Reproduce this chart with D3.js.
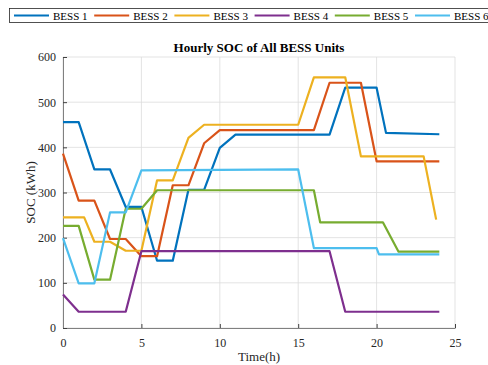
<!DOCTYPE html>
<html>
<head>
<meta charset="utf-8">
<script src="https://cdn.jsdelivr.net/npm/d3@7"></script>
<style>
  body { margin: 0; background: #fff; }
  text { font-family: "Liberation Serif", "Times New Roman", serif; }
</style>
</head>
<body>
<script>
const width = 488;
const height = 365;
const margin = { l: 63, r: 33, t: 57, b: 37 };

const names = ["BESS 1", "BESS 2", "BESS 3", "BESS 4", "BESS 5", "BESS 6"];
const colors = ["#0072BD", "#D95319", "#EDB120", "#7E2F8E", "#77AC30", "#4DBEEE"];

// hours and SOC (kWh) for each unit
const bess1Hours = [0, 1, 2, 3, 4, 5, 6, 7, 8, 9, 10, 11, 17, 18, 20, 20.6, 24];
const bess1Soc = [456, 456, 351, 351, 268, 268, 149, 149, 306, 306, 399, 428, 428, 532, 532, 432, 429];
const bess2Hours = [0, 1, 2, 3, 4, 5, 6, 7, 8, 9, 10, 16, 17, 19, 20, 24];
const bess2Soc = [386, 282, 282, 197, 197, 159, 159, 316, 316, 409, 438, 438, 543, 543, 369, 369];
const bess3Hours = [0, 1.35, 2, 3, 4, 5, 6, 7, 8, 9, 15, 16, 18, 19, 23, 23.8];
const bess3Soc = [245, 245, 191, 191, 171, 171, 327, 327, 421, 450, 450, 555, 555, 380, 380, 240];
const bess4Hours = [0, 1, 4, 5, 17, 18, 24];
const bess4Soc = [74, 36, 36, 170, 170, 36, 36];
const bess5Hours = [0, 1, 2, 3, 4, 5, 6, 16, 16.4, 20.4, 21.4, 24];
const bess5Soc = [226, 226, 107, 107, 264, 264, 305, 305, 234, 234, 169, 169];
const bess6Hours = [0, 1, 2, 3, 4, 5, 15, 16, 20, 20.15, 24];
const bess6Soc = [199, 99, 99, 256, 256, 349, 351, 177, 177, 163, 163];

const xTicks = [0, 5, 10, 15, 20, 25];
const yTicks = [0, 100, 200, 300, 400, 500, 600];

const hoursList = [bess1Hours, bess2Hours, bess3Hours, bess4Hours, bess5Hours, bess6Hours];
const socList = [bess1Soc, bess2Soc, bess3Soc, bess4Soc, bess5Soc, bess6Soc];

const x = d3.scaleLinear().domain([0, 25]).range([margin.l, width - margin.r]);
const y = d3.scaleLinear().domain([0, 600]).range([height - margin.b, margin.t]);

const svg = d3.select("body")
  .append("svg")
  .attr("width", width)
  .attr("height", height);

// grid
svg.append("g")
  .selectAll("line.vgrid")
  .data(xTicks)
  .enter()
  .append("line")
  .attr("x1", (d) => x(d)).attr("x2", (d) => x(d))
  .attr("y1", y(0)).attr("y2", y(600))
  .style("stroke", "#dcdcdc").style("stroke-width", 0.8);
svg.append("g")
  .selectAll("line.hgrid")
  .data(yTicks)
  .enter()
  .append("line")
  .attr("x1", x(0)).attr("x2", x(25))
  .attr("y1", (d) => y(d)).attr("y2", (d) => y(d))
  .style("stroke", "#dcdcdc").style("stroke-width", 0.8);

// axes, ticks pointing inward like matlab
const xAxis = svg.append("g")
  .attr("transform", `translate(0,${y(0)})`)
  .call(d3.axisBottom(x).tickValues(xTicks).tickSizeInner(-4).tickSizeOuter(0).tickPadding(10));
const yAxis = svg.append("g")
  .attr("transform", `translate(${x(0)},0)`)
  .call(d3.axisLeft(y).tickValues(yTicks).tickSizeInner(-4).tickSizeOuter(0).tickPadding(7));
[xAxis, yAxis].forEach((a) => {
  a.select(".domain").style("stroke", "#808080").style("stroke-width", 1);
  a.selectAll(".tick line").style("stroke", "#404040");
  a.selectAll("text")
    .style("font-family", "Liberation Serif")
    .style("font-size", "12px")
    .style("fill", "#262626");
});

// series
const line = d3.line().x((d) => x(d[0])).y((d) => y(d[1]));
names.forEach((name, i) => {
  const pts = hoursList[i].map((h, k) => [h, socList[i][k]]);
  svg.append("path")
    .datum(pts)
    .attr("d", line)
    .style("fill", "none")
    .style("stroke", colors[i])
    .style("stroke-width", 2.2)
    .style("stroke-linejoin", "round");
});

// title and labels
svg.append("text")
  .attr("x", (x(0) + x(25)) / 2)
  .attr("y", 52)
  .attr("text-anchor", "middle")
  .style("font-size", "13px")
  .style("font-weight", "bold")
  .style("fill", "#000")
  .text("Hourly SOC of All BESS Units");
svg.append("text")
  .attr("x", (x(0) + x(25)) / 2)
  .attr("y", 361)
  .attr("text-anchor", "middle")
  .style("font-size", "13px")
  .style("fill", "#262626")
  .text("Time(h)");
svg.append("text")
  .attr("transform", `translate(35,${(y(0) + y(600)) / 2}) rotate(-90)`)
  .attr("text-anchor", "middle")
  .style("font-size", "13px")
  .style("fill", "#262626")
  .text("SOC (kWh)");

// legend
const legend = svg.append("g").classed("legend", true);
legend.append("rect")
  .attr("x", 9.5).attr("y", 8.5)
  .attr("width", 500).attr("height", 14)
  .style("fill", "#fff")
  .style("stroke", "#262626")
  .style("stroke-width", 0.8);
names.forEach((name, i) => {
  const lx = 14 + i * 80.2;
  legend.append("line")
    .attr("x1", lx).attr("x2", lx + 35)
    .attr("y1", 15.5).attr("y2", 15.5)
    .style("stroke", colors[i])
    .style("stroke-width", 2.2);
  legend.append("text")
    .attr("x", lx + 39)
    .attr("y", 19.5)
    .style("font-size", "11px")
    .style("fill", "#000")
    .text(name);
});
</script>
</body>
</html>
